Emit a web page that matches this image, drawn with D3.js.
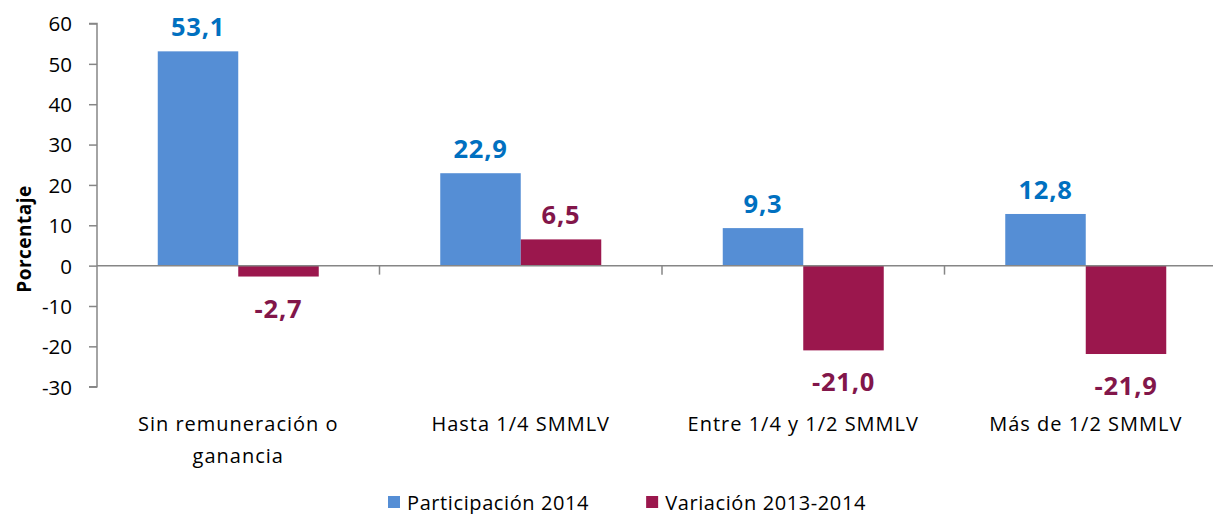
<!DOCTYPE html>
<html>
<head>
<meta charset="utf-8">
<script src="https://cdn.jsdelivr.net/npm/d3@7"></script>
<style>
  body { margin: 0; background: #fff; }
  text { font-family: "Open Sans", sans-serif; }
</style>
</head>
<body>
<div id="chart"></div>
<script>
// data
var categories = ["Sin remuneración o ganancia", "Hasta 1/4 SMMLV", "Entre 1/4 y 1/2 SMMLV", "Más de 1/2 SMMLV"];
var seriesNames = ["Participación 2014", "Variación 2013-2014"];
var participacion = [53.1, 22.9, 9.3, 12.8];
var variacion = [-2.7, 6.5, -21.0, -21.9];
var yTicks = [-30, -20, -10, 0, 10, 20, 30, 40, 50, 60];

var barColors = ["#558ED5", "#9B174D"];
var labelColors = ["#0070C0", "#82164A"];

var W = 1213, H = 514;
var plotLeft = 97, plotTop = 23.5, plotBottom = 386.7, plotRight = 1227;

// spanish style numbers: comma decimal, plain hyphen minus
var es = d3.formatLocale({decimal: ",", thousands: ".", grouping: [3], currency: ["$", ""], minus: "-"});

var svg = d3.select("#chart").append("svg")
    .attr("width", W)
    .attr("height", H);

var rows = categories.map(function(c, i) {
  return {cat: c, values: [participacion[i], variacion[i]]};
});

var x0 = d3.scaleBand()
    .domain(categories)
    .range([plotLeft, plotRight])
    .padding(0);

var groupHalf = 80.5;
var x1 = d3.scaleBand()
    .domain([0, 1])
    .range([x0.bandwidth() / 2 - groupHalf, x0.bandwidth() / 2 + groupHalf])
    .padding(0);

var y = d3.scaleLinear()
    .domain([-30, 60])
    .range([plotBottom, plotTop]);

// y axis
var yAxis = svg.append("g")
    .attr("transform", "translate(" + plotLeft + ",0)")
    .call(d3.axisLeft(y).tickValues(yTicks).tickSize(8).tickPadding(17).tickFormat(es.format("d")));
yAxis.select(".domain").attr("stroke", "#868686").attr("stroke-width", 1.5);
yAxis.selectAll(".tick line").attr("stroke", "#868686").attr("stroke-width", 1.5);
yAxis.selectAll(".tick text")
    .style("font-size", "20.5px")
    .attr("fill", "#000")
    .attr("dy", "0.36em");
yAxis.select(".domain").attr("d", "M-8," + y(60) + "H0V" + y(-30) + "H-8");

// bars
var groups = svg.selectAll(".grp")
  .data(rows)
  .enter().append("g")
    .attr("class", "grp")
    .attr("transform", function(d) { return "translate(" + x0(d.cat) + ",0)"; });

groups.selectAll("rect")
  .data(function(d) { return d.values.map(function(v, k) { return {k: k, v: v}; }); })
  .enter().append("rect")
    .attr("x", function(d) { return x1(d.k); })
    .attr("width", x1.bandwidth())
    .attr("y", function(d) { return y(Math.max(0, d.v)); })
    .attr("height", function(d) { return Math.abs(y(d.v) - y(0)); })
    .attr("fill", function(d) { return barColors[d.k]; });

// zero line + category ticks
svg.append("line")
    .attr("x1", plotLeft).attr("x2", W)
    .attr("y1", y(0)).attr("y2", y(0))
    .attr("stroke", "#868686").attr("stroke-width", 1.5);

svg.selectAll(".ctick")
  .data(categories)
  .enter().append("line")
    .attr("x1", function(d) { return x0(d) + x0.bandwidth(); })
    .attr("x2", function(d) { return x0(d) + x0.bandwidth(); })
    .attr("y1", y(0)).attr("y2", y(0) + 9)
    .attr("stroke", "#868686").attr("stroke-width", 1.5);

// value labels
groups.selectAll(".val")
  .data(function(d) { return d.values.map(function(v, k) { return {k: k, v: v}; }); })
  .enter().append("text")
    .attr("x", function(d) { return x1(d.k) + x1.bandwidth() / 2; })
    .attr("y", function(d) { return d.v >= 0 ? y(d.v) - 15 : y(d.v) + 41; })
    .attr("text-anchor", "middle")
    .style("font-size", "25.5px")
    .style("font-weight", "bold")
    .style("letter-spacing", "0.8px")
    .attr("fill", function(d) { return labelColors[d.k]; })
    .text(function(d) { return es.format(".1f")(d.v); });

// category labels (wrapped)
svg.selectAll(".cat")
  .data(categories)
  .enter().append("text")
    .attr("class", "cat")
    .attr("x", function(d) { return x0(d) + x0.bandwidth() / 2; })
    .attr("y", 431)
    .attr("text-anchor", "middle")
    .style("font-size", "20px")
    .style("letter-spacing", "1px")
    .attr("fill", "#000")
    .each(function(d) {
      var el = d3.select(this), words = d.split(" "), line = [];
      var tspan = el.append("tspan").attr("x", el.attr("x")).attr("dy", 0);
      words.forEach(function(w) {
        line.push(w);
        tspan.text(line.join(" "));
        if (tspan.node().getComputedTextLength() > 255 && line.length > 1) {
          line.pop();
          tspan.text(line.join(" "));
          line = [w];
          tspan = el.append("tspan").attr("x", el.attr("x")).attr("dy", 32).text(w);
        }
      });
    });

// y title
svg.append("text")
    .attr("transform", "translate(31,239) rotate(-90)")
    .attr("text-anchor", "middle")
    .style("font-size", "19px")
    .style("font-weight", "bold")
    .style("letter-spacing", "0.5px")
    .text("Porcentaje");

// legend
var legend = svg.append("g").attr("transform", "translate(388,496)");
var lx = 0;
seriesNames.forEach(function(name, i) {
  var g = legend.append("g").attr("transform", "translate(" + lx + ",0)");
  g.append("rect").attr("width", 12).attr("height", 12).attr("fill", barColors[i]);
  var t = g.append("text")
      .attr("x", 19).attr("y", 14)
      .style("font-size", "20px")
      .style("letter-spacing", "0.6px")
      .attr("fill", "#000")
      .text(name);
  lx += 19 + t.node().getComputedTextLength() + 57;
});
</script>
</body>
</html>
